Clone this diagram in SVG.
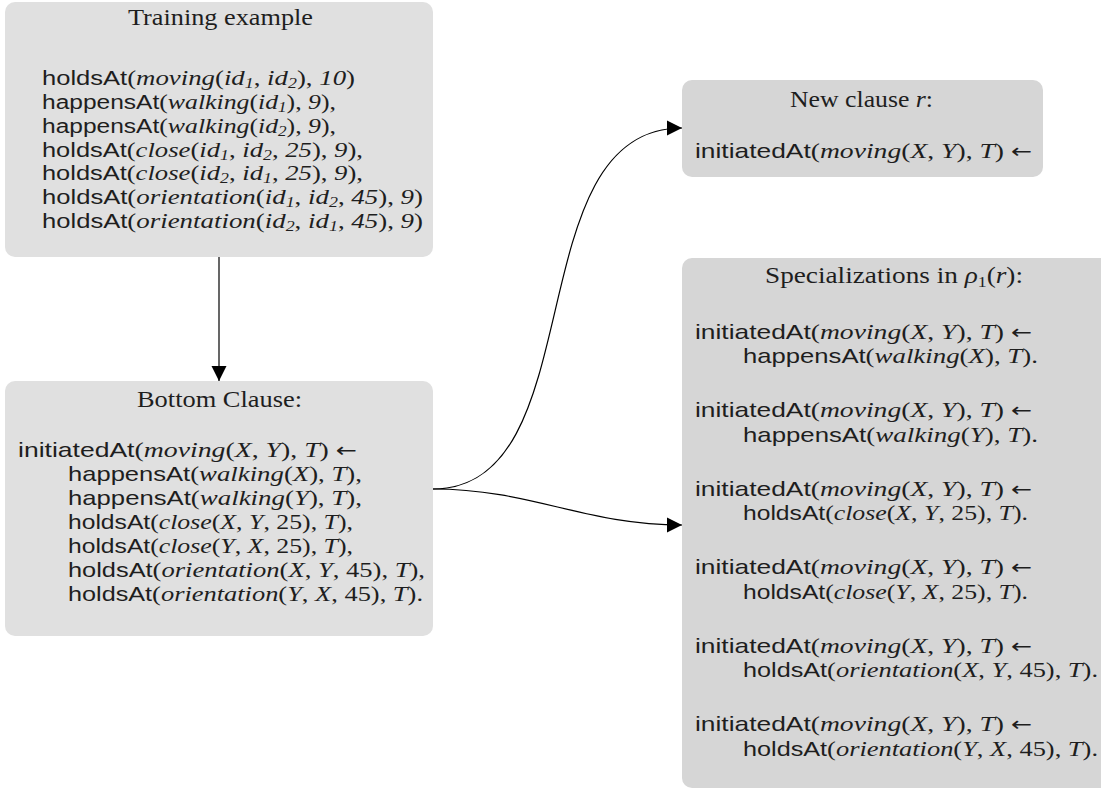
<svg xmlns="http://www.w3.org/2000/svg" width="1101" height="790" viewBox="0 0 1101 790">
<style>
text{fill:#1e1e1e;font-size:22px;font-family:"Liberation Serif",serif}
.sf{font-family:"Liberation Sans",Arial,sans-serif;font-size:21px}
.it{font-family:"Liberation Serif",serif;font-style:italic}
.rm{font-family:"Liberation Serif",serif;font-style:normal}
.ar{font-family:"DejaVu Sans",sans-serif;font-style:normal;font-size:20px}
.sb{font-size:15px}
.ttl{font-size:23px;text-anchor:middle}
text.tr{font-size:21px}
.tr .sf{font-size:20px}
.tr .sb{font-size:14px}
.b1{fill:#e0e0e0}
.b2{fill:#d6d6d6}
.cn{fill:none;stroke:#000;stroke-width:1.2}
</style>
<defs>
<marker id="ah" markerUnits="userSpaceOnUse" markerWidth="16" markerHeight="16" refX="15" refY="8" orient="auto" viewBox="0 0 16 16"><path d="M0,0.5 L15,8 L0,15.5 z" fill="#000"/></marker>
</defs>
<g id="connectors">
<path class="cn" d="M219,257 L219,381" marker-end="url(#ah)"/>
<path class="cn" d="M433,489 C595,489 515,128 682,128" marker-end="url(#ah)"/>
<path class="cn" d="M433,489 C531.5,489 583.5,525 682,525" marker-end="url(#ah)"/>
</g>
<g id="training">
<rect class="b1" x="5" y="2" width="428" height="255" rx="10"/>
<text class="ttl" x="220.5" y="25" textLength="185" lengthAdjust="spacingAndGlyphs">Training example</text>
<text class="tr" x="42" y="85" textLength="313" lengthAdjust="spacingAndGlyphs"><tspan class="sf">holdsAt</tspan><tspan class="rm">(</tspan><tspan class="it">moving</tspan><tspan class="rm">(</tspan><tspan class="it">id</tspan><tspan class="it sb" dy="3">1</tspan><tspan class="rm" dy="-3">, </tspan><tspan class="it">id</tspan><tspan class="it sb" dy="3">2</tspan><tspan class="rm" dy="-3">), </tspan><tspan class="it">10</tspan><tspan class="rm">)</tspan></text>
<text class="tr" x="42" y="109" textLength="294" lengthAdjust="spacingAndGlyphs"><tspan class="sf">happensAt</tspan><tspan class="rm">(</tspan><tspan class="it">walking</tspan><tspan class="rm">(</tspan><tspan class="it">id</tspan><tspan class="it sb" dy="3">1</tspan><tspan class="rm" dy="-3">), </tspan><tspan class="it">9</tspan><tspan class="rm">),</tspan></text>
<text class="tr" x="42" y="132.5" textLength="294" lengthAdjust="spacingAndGlyphs"><tspan class="sf">happensAt</tspan><tspan class="rm">(</tspan><tspan class="it">walking</tspan><tspan class="rm">(</tspan><tspan class="it">id</tspan><tspan class="it sb" dy="3">2</tspan><tspan class="rm" dy="-3">), </tspan><tspan class="it">9</tspan><tspan class="rm">),</tspan></text>
<text class="tr" x="42" y="156.5" textLength="321" lengthAdjust="spacingAndGlyphs"><tspan class="sf">holdsAt</tspan><tspan class="rm">(</tspan><tspan class="it">close</tspan><tspan class="rm">(</tspan><tspan class="it">id</tspan><tspan class="it sb" dy="3">1</tspan><tspan class="rm" dy="-3">, </tspan><tspan class="it">id</tspan><tspan class="it sb" dy="3">2</tspan><tspan class="rm" dy="-3">, </tspan><tspan class="it">25</tspan><tspan class="rm">), </tspan><tspan class="it">9</tspan><tspan class="rm">),</tspan></text>
<text class="tr" x="42" y="180" textLength="321" lengthAdjust="spacingAndGlyphs"><tspan class="sf">holdsAt</tspan><tspan class="rm">(</tspan><tspan class="it">close</tspan><tspan class="rm">(</tspan><tspan class="it">id</tspan><tspan class="it sb" dy="3">2</tspan><tspan class="rm" dy="-3">, </tspan><tspan class="it">id</tspan><tspan class="it sb" dy="3">1</tspan><tspan class="rm" dy="-3">, </tspan><tspan class="it">25</tspan><tspan class="rm">), </tspan><tspan class="it">9</tspan><tspan class="rm">),</tspan></text>
<text class="tr" x="42" y="204" textLength="381" lengthAdjust="spacingAndGlyphs"><tspan class="sf">holdsAt</tspan><tspan class="rm">(</tspan><tspan class="it">orientation</tspan><tspan class="rm">(</tspan><tspan class="it">id</tspan><tspan class="it sb" dy="3">1</tspan><tspan class="rm" dy="-3">, </tspan><tspan class="it">id</tspan><tspan class="it sb" dy="3">2</tspan><tspan class="rm" dy="-3">, </tspan><tspan class="it">45</tspan><tspan class="rm">), </tspan><tspan class="it">9</tspan><tspan class="rm">)</tspan></text>
<text class="tr" x="42" y="228" textLength="381" lengthAdjust="spacingAndGlyphs"><tspan class="sf">holdsAt</tspan><tspan class="rm">(</tspan><tspan class="it">orientation</tspan><tspan class="rm">(</tspan><tspan class="it">id</tspan><tspan class="it sb" dy="3">2</tspan><tspan class="rm" dy="-3">, </tspan><tspan class="it">id</tspan><tspan class="it sb" dy="3">1</tspan><tspan class="rm" dy="-3">, </tspan><tspan class="it">45</tspan><tspan class="rm">), </tspan><tspan class="it">9</tspan><tspan class="rm">)</tspan></text>
</g>
<g id="bottom-clause">
<rect class="b1" x="5" y="381" width="428" height="255" rx="10"/>
<text class="ttl" x="219.5" y="407" textLength="165" lengthAdjust="spacingAndGlyphs">Bottom Clause:</text>
<text x="18" y="457" textLength="339" lengthAdjust="spacingAndGlyphs"><tspan class="sf">initiatedAt</tspan><tspan class="rm">(</tspan><tspan class="it">moving</tspan><tspan class="rm">(</tspan><tspan class="it">X</tspan><tspan class="rm">, </tspan><tspan class="it">Y</tspan><tspan class="rm">), </tspan><tspan class="it">T</tspan><tspan class="rm">) </tspan><tspan class="ar">←</tspan></text>
<text x="68" y="481" textLength="294" lengthAdjust="spacingAndGlyphs"><tspan class="sf">happensAt</tspan><tspan class="rm">(</tspan><tspan class="it">walking</tspan><tspan class="rm">(</tspan><tspan class="it">X</tspan><tspan class="rm">), </tspan><tspan class="it">T</tspan><tspan class="rm">),</tspan></text>
<text x="68" y="505" textLength="294" lengthAdjust="spacingAndGlyphs"><tspan class="sf">happensAt</tspan><tspan class="rm">(</tspan><tspan class="it">walking</tspan><tspan class="rm">(</tspan><tspan class="it">Y</tspan><tspan class="rm">), </tspan><tspan class="it">T</tspan><tspan class="rm">),</tspan></text>
<text x="68" y="529" textLength="285" lengthAdjust="spacingAndGlyphs"><tspan class="sf">holdsAt</tspan><tspan class="rm">(</tspan><tspan class="it">close</tspan><tspan class="rm">(</tspan><tspan class="it">X</tspan><tspan class="rm">, </tspan><tspan class="it">Y</tspan><tspan class="rm">, 25), </tspan><tspan class="it">T</tspan><tspan class="rm">),</tspan></text>
<text x="68" y="553" textLength="285" lengthAdjust="spacingAndGlyphs"><tspan class="sf">holdsAt</tspan><tspan class="rm">(</tspan><tspan class="it">close</tspan><tspan class="rm">(</tspan><tspan class="it">Y</tspan><tspan class="rm">, </tspan><tspan class="it">X</tspan><tspan class="rm">, 25), </tspan><tspan class="it">T</tspan><tspan class="rm">),</tspan></text>
<text x="68" y="577" textLength="357" lengthAdjust="spacingAndGlyphs"><tspan class="sf">holdsAt</tspan><tspan class="rm">(</tspan><tspan class="it">orientation</tspan><tspan class="rm">(</tspan><tspan class="it">X</tspan><tspan class="rm">, </tspan><tspan class="it">Y</tspan><tspan class="rm">, 45), </tspan><tspan class="it">T</tspan><tspan class="rm">),</tspan></text>
<text x="68" y="601" textLength="355" lengthAdjust="spacingAndGlyphs"><tspan class="sf">holdsAt</tspan><tspan class="rm">(</tspan><tspan class="it">orientation</tspan><tspan class="rm">(</tspan><tspan class="it">Y</tspan><tspan class="rm">, </tspan><tspan class="it">X</tspan><tspan class="rm">, 45), </tspan><tspan class="it">T</tspan><tspan class="rm">).</tspan></text>
</g>
<g id="new-clause">
<rect class="b2" x="682" y="80" width="361" height="97" rx="10"/>
<text class="ttl" x="861.5" y="107" textLength="143" lengthAdjust="spacingAndGlyphs">New clause <tspan class="it">r</tspan>:</text>
<text x="695" y="158" textLength="337" lengthAdjust="spacingAndGlyphs"><tspan class="sf">initiatedAt</tspan><tspan class="rm">(</tspan><tspan class="it">moving</tspan><tspan class="rm">(</tspan><tspan class="it">X</tspan><tspan class="rm">, </tspan><tspan class="it">Y</tspan><tspan class="rm">), </tspan><tspan class="it">T</tspan><tspan class="rm">) </tspan><tspan class="ar">←</tspan></text>
</g>
<g id="specializations">
<rect class="b2" x="682" y="258" width="440" height="530" rx="10"/>
<text class="ttl" x="894" y="283" textLength="258" lengthAdjust="spacingAndGlyphs">Specializations in <tspan class="it">ρ</tspan><tspan class="sb" dy="4">1</tspan><tspan dy="-4">(</tspan><tspan class="it">r</tspan>):</text>
<text x="695" y="338.5" textLength="337" lengthAdjust="spacingAndGlyphs"><tspan class="sf">initiatedAt</tspan><tspan class="rm">(</tspan><tspan class="it">moving</tspan><tspan class="rm">(</tspan><tspan class="it">X</tspan><tspan class="rm">, </tspan><tspan class="it">Y</tspan><tspan class="rm">), </tspan><tspan class="it">T</tspan><tspan class="rm">) </tspan><tspan class="ar">←</tspan></text>
<text x="743" y="363" textLength="295" lengthAdjust="spacingAndGlyphs"><tspan class="sf">happensAt</tspan><tspan class="rm">(</tspan><tspan class="it">walking</tspan><tspan class="rm">(</tspan><tspan class="it">X</tspan><tspan class="rm">), </tspan><tspan class="it">T</tspan><tspan class="rm">).</tspan></text>
<text x="695" y="417" textLength="337" lengthAdjust="spacingAndGlyphs"><tspan class="sf">initiatedAt</tspan><tspan class="rm">(</tspan><tspan class="it">moving</tspan><tspan class="rm">(</tspan><tspan class="it">X</tspan><tspan class="rm">, </tspan><tspan class="it">Y</tspan><tspan class="rm">), </tspan><tspan class="it">T</tspan><tspan class="rm">) </tspan><tspan class="ar">←</tspan></text>
<text x="743" y="441.5" textLength="295" lengthAdjust="spacingAndGlyphs"><tspan class="sf">happensAt</tspan><tspan class="rm">(</tspan><tspan class="it">walking</tspan><tspan class="rm">(</tspan><tspan class="it">Y</tspan><tspan class="rm">), </tspan><tspan class="it">T</tspan><tspan class="rm">).</tspan></text>
<text x="695" y="495.5" textLength="337" lengthAdjust="spacingAndGlyphs"><tspan class="sf">initiatedAt</tspan><tspan class="rm">(</tspan><tspan class="it">moving</tspan><tspan class="rm">(</tspan><tspan class="it">X</tspan><tspan class="rm">, </tspan><tspan class="it">Y</tspan><tspan class="rm">), </tspan><tspan class="it">T</tspan><tspan class="rm">) </tspan><tspan class="ar">←</tspan></text>
<text x="743" y="520" textLength="285" lengthAdjust="spacingAndGlyphs"><tspan class="sf">holdsAt</tspan><tspan class="rm">(</tspan><tspan class="it">close</tspan><tspan class="rm">(</tspan><tspan class="it">X</tspan><tspan class="rm">, </tspan><tspan class="it">Y</tspan><tspan class="rm">, 25), </tspan><tspan class="it">T</tspan><tspan class="rm">).</tspan></text>
<text x="695" y="574" textLength="337" lengthAdjust="spacingAndGlyphs"><tspan class="sf">initiatedAt</tspan><tspan class="rm">(</tspan><tspan class="it">moving</tspan><tspan class="rm">(</tspan><tspan class="it">X</tspan><tspan class="rm">, </tspan><tspan class="it">Y</tspan><tspan class="rm">), </tspan><tspan class="it">T</tspan><tspan class="rm">) </tspan><tspan class="ar">←</tspan></text>
<text x="743" y="598.5" textLength="285" lengthAdjust="spacingAndGlyphs"><tspan class="sf">holdsAt</tspan><tspan class="rm">(</tspan><tspan class="it">close</tspan><tspan class="rm">(</tspan><tspan class="it">Y</tspan><tspan class="rm">, </tspan><tspan class="it">X</tspan><tspan class="rm">, 25), </tspan><tspan class="it">T</tspan><tspan class="rm">).</tspan></text>
<text x="695" y="652.5" textLength="337" lengthAdjust="spacingAndGlyphs"><tspan class="sf">initiatedAt</tspan><tspan class="rm">(</tspan><tspan class="it">moving</tspan><tspan class="rm">(</tspan><tspan class="it">X</tspan><tspan class="rm">, </tspan><tspan class="it">Y</tspan><tspan class="rm">), </tspan><tspan class="it">T</tspan><tspan class="rm">) </tspan><tspan class="ar">←</tspan></text>
<text x="743" y="677" textLength="355" lengthAdjust="spacingAndGlyphs"><tspan class="sf">holdsAt</tspan><tspan class="rm">(</tspan><tspan class="it">orientation</tspan><tspan class="rm">(</tspan><tspan class="it">X</tspan><tspan class="rm">, </tspan><tspan class="it">Y</tspan><tspan class="rm">, 45), </tspan><tspan class="it">T</tspan><tspan class="rm">).</tspan></text>
<text x="695" y="731" textLength="337" lengthAdjust="spacingAndGlyphs"><tspan class="sf">initiatedAt</tspan><tspan class="rm">(</tspan><tspan class="it">moving</tspan><tspan class="rm">(</tspan><tspan class="it">X</tspan><tspan class="rm">, </tspan><tspan class="it">Y</tspan><tspan class="rm">), </tspan><tspan class="it">T</tspan><tspan class="rm">) </tspan><tspan class="ar">←</tspan></text>
<text x="743" y="755.5" textLength="355" lengthAdjust="spacingAndGlyphs"><tspan class="sf">holdsAt</tspan><tspan class="rm">(</tspan><tspan class="it">orientation</tspan><tspan class="rm">(</tspan><tspan class="it">Y</tspan><tspan class="rm">, </tspan><tspan class="it">X</tspan><tspan class="rm">, 45), </tspan><tspan class="it">T</tspan><tspan class="rm">).</tspan></text>
</g>
</svg>
